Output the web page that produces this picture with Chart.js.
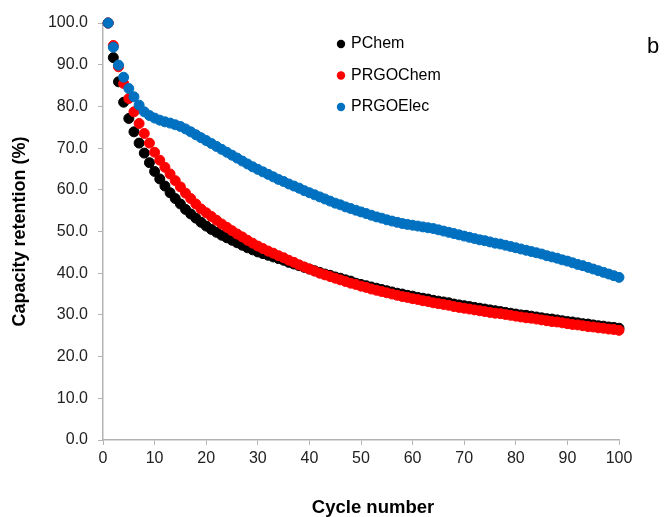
<!DOCTYPE html>
<html>
<head>
<meta charset="utf-8">
<script src="https://cdn.jsdelivr.net/npm/chart.js@4/dist/chart.umd.min.js"></script>
<style>
  html, body { margin: 0; padding: 0; background: #fff; }
  #wrap { width: 666px; height: 517px; position: relative; }
</style>
</head>
<body>
<div id="wrap"><canvas id="retentionChart"></canvas></div>
<script>
// cycle numbers (x values)
const cycles = [
  1, 2, 3, 4, 5, 6, 7, 8, 9, 10, 11, 12, 13, 14, 15, 16, 17, 18, 19, 20,
  21, 22, 23, 24, 25, 26, 27, 28, 29, 30, 31, 32, 33, 34, 35, 36, 37, 38, 39, 40,
  41, 42, 43, 44, 45, 46, 47, 48, 49, 50, 51, 52, 53, 54, 55, 56, 57, 58, 59, 60,
  61, 62, 63, 64, 65, 66, 67, 68, 69, 70, 71, 72, 73, 74, 75, 76, 77, 78, 79, 80,
  81, 82, 83, 84, 85, 86, 87, 88, 89, 90, 91, 92, 93, 94, 95, 96, 97, 98, 99, 100
];

const seriesNames = ["PChem", "PRGOChem", "PRGOElec"];

// capacity retention (%)
const pChem = [
  100, 91.7, 85.9, 81.0, 77.1, 73.9, 71.2, 68.8, 66.5, 64.4,
  62.6, 60.9, 59.3, 57.9, 56.6, 55.3, 54.2, 53.2, 52.2, 51.3,
  50.5, 49.8, 49.1, 48.5, 47.9, 47.3, 46.7, 46.1, 45.6, 45.1,
  44.7, 44.3, 43.9, 43.5, 43.1, 42.6, 42.2, 41.8, 41.4, 41.0,
  40.6, 40.2, 39.8, 39.5, 39.1, 38.8, 38.4, 38.1, 37.6, 37.3,
  37.0, 36.7, 36.4, 36.1, 35.8, 35.5, 35.2, 35.0, 34.7, 34.5,
  34.2, 34.0, 33.8, 33.5, 33.3, 33.1, 32.9, 32.6, 32.4, 32.2,
  32.0, 31.8, 31.6, 31.4, 31.2, 31.0, 30.8, 30.6, 30.4, 30.2,
  30.0, 29.9, 29.7, 29.5, 29.3, 29.1, 29.0, 28.8, 28.6, 28.4,
  28.3, 28.1, 27.9, 27.8, 27.6, 27.4, 27.3, 27.1, 27.0, 26.8
];

const prgoChem = [
  100, 94.6, 89.5, 85.5, 81.9, 78.7, 75.9, 73.5, 71.2, 69.0,
  67.1, 65.4, 63.8, 62.2, 60.7, 59.2, 57.9, 56.6, 55.4, 54.5,
  53.6, 52.7, 51.8, 51.0, 50.2, 49.4, 48.7, 47.9, 47.2, 46.5,
  45.9, 45.3, 44.8, 44.2, 43.7, 43.1, 42.6, 42.0, 41.5, 41.0,
  40.5, 40.0, 39.6, 39.2, 38.8, 38.4, 38.0, 37.6, 37.3, 36.9,
  36.6, 36.2, 35.9, 35.6, 35.3, 35.0, 34.7, 34.4, 34.2, 33.9,
  33.7, 33.4, 33.2, 32.9, 32.7, 32.5, 32.3, 32.0, 31.8, 31.6,
  31.4, 31.2, 31.0, 30.8, 30.6, 30.4, 30.3, 30.1, 29.9, 29.7,
  29.5, 29.3, 29.2, 29.0, 28.8, 28.6, 28.4, 28.3, 28.1, 27.9,
  27.7, 27.6, 27.4, 27.2, 27.1, 26.9, 26.8, 26.6, 26.5, 26.3
];

const prgoElec = [
  100, 94.2, 89.9, 87.0, 84.3, 82.3, 80.3, 78.7, 77.8, 77.2,
  76.7, 76.3, 76.0, 75.6, 75.2, 74.6, 73.9, 73.2, 72.5, 71.8,
  71.1, 70.4, 69.7, 69.0, 68.3, 67.6, 66.9, 66.2, 65.5, 64.9,
  64.3, 63.7, 63.1, 62.5, 62.0, 61.4, 60.9, 60.4, 59.8, 59.3,
  58.8, 58.3, 57.8, 57.3, 56.8, 56.4, 55.9, 55.5, 55.1, 54.7,
  54.3, 53.9, 53.5, 53.2, 52.8, 52.5, 52.2, 51.9, 51.7, 51.5,
  51.3, 51.1, 50.9, 50.7, 50.4, 50.1, 49.8, 49.5, 49.2, 48.9,
  48.6, 48.3, 48.0, 47.8, 47.5, 47.2, 47.0, 46.7, 46.4, 46.1,
  45.8, 45.5, 45.2, 44.9, 44.6, 44.2, 43.9, 43.6, 43.2, 42.9,
  42.5, 42.1, 41.8, 41.4, 41.0, 40.6, 40.2, 39.8, 39.4, 39.0
];

const seriesColors = ["#000000", "#ff0000", "#0070c0"];
const allSeries = [pChem, prgoChem, prgoElec];
const xTitle = "Cycle number";

const FONT = "'Liberation Sans', Arial, sans-serif";

// legend inside the plot, x title and panel letter
const insideLegend = {
  id: "insideLegend",
  afterDraw(chart) {
    const ctx = chart.ctx;
    ctx.save();
    ctx.font = "16px " + FONT;
    ctx.textBaseline = "middle";
    seriesNames.forEach((name, i) => {
      const y = 44 + i * 31.5;
      ctx.fillStyle = seriesColors[i];
      ctx.beginPath();
      ctx.arc(341, y, 4.2, 0, Math.PI * 2);
      ctx.fill();
      ctx.fillStyle = "#000";
      ctx.fillText(name, 351, y);
    });
    ctx.font = "22px " + FONT;
    ctx.fillText("b", 647, 47);
    // x axis title sits a little right of the plot centre in the original
    ctx.font = "bold 18.5px " + FONT;
    ctx.textAlign = "center";
    ctx.fillText(xTitle, 373, 508);
    ctx.restore();
  }
};

const ctx = document.getElementById("retentionChart").getContext("2d");

new Chart(ctx, {
  type: "scatter",
  data: {
    datasets: allSeries.map((vals, i) => ({
      label: seriesNames[i],
      data: cycles.map((c, j) => ({ x: c, y: vals[j] })),
      backgroundColor: seriesColors[i],
      borderColor: seriesColors[i],
      borderWidth: 1,
      pointRadius: 5,
      pointHoverRadius: 5,
      order: 3 - i,
      clip: false
    }))
  },
  options: {
    responsive: true,
    maintainAspectRatio: false,
    animation: false,
    layout: { padding: { left: 0, right: 47, top: 23, bottom: 0 } },
    plugins: {
      legend: { display: false },
      tooltip: { enabled: false }
    },
    scales: {
      x: {
        type: "linear",
        min: 0,
        max: 100,
        afterFit: s => { s.height = 77; },
        ticks: { stepSize: 10, color: "#222", padding: 4, font: { family: FONT, size: 16 } },
        grid: { display: true, drawOnChartArea: false, drawTicks: true, tickLength: 5, color: "#b3b3b3" },
        border: { color: "#b3b3b3", width: 1.5 },
        title: { display: false }
      },
      y: {
        min: 0,
        max: 100,
        afterFit: s => { s.width = 103; },
        ticks: { stepSize: 10, color: "#222", padding: 10, font: { family: FONT, size: 16 },
                 callback: v => v.toFixed(1) },
        grid: { display: true, drawOnChartArea: false, drawTicks: true, tickLength: 5, color: "#b3b3b3" },
        border: { color: "#b3b3b3", width: 1.5 },
        title: { display: true, text: "Capacity retention (%)", color: "#000", padding: { top: 9, bottom: 0 },
                 font: { family: FONT, size: 18, weight: "bold" } }
      }
    }
  },
  plugins: [insideLegend]
});
</script>
</body>
</html>
